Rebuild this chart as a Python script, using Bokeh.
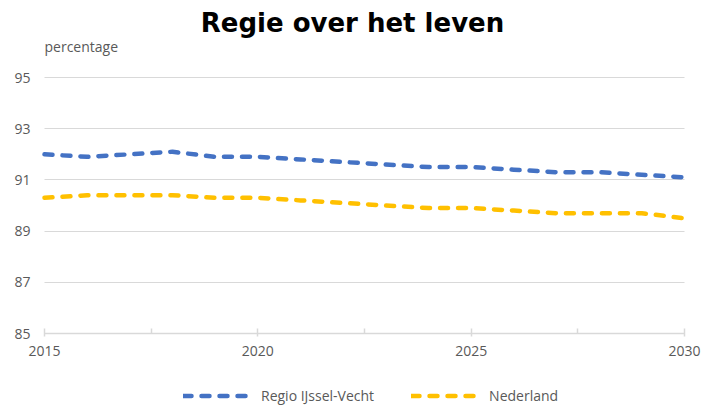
from bokeh.plotting import figure
from bokeh.models import FixedTicker, Legend, LegendItem, Range1d, Label
from bokeh.embed import file_html
from bokeh.resources import INLINE

# ---- data ----
years = list(range(2015, 2031))
regio = [92.0, 91.9, 92.0, 92.1, 91.9, 91.9, 91.8, 91.7, 91.6, 91.5,
         91.5, 91.4, 91.3, 91.3, 91.2, 91.1]
nederland = [90.3, 90.4, 90.4, 90.4, 90.3, 90.3, 90.2, 90.1, 90.0, 89.9,
             89.9, 89.8, 89.7, 89.7, 89.7, 89.5]
y_ticks = [85, 87, 89, 91, 93, 95]
x_ticks = [2015, 2020, 2025, 2030]
x_minor = [2017.5, 2022.5, 2027.5]
series_names = ["Regio IJssel-Vecht", "Nederland"]
title_text = "Regie over het leven"
y_label = "percentage"

GRID = "#d9d9d9"
TXT = "#595959"
FONT = "Open Sans"

# ---- layout (pixels) ----
W, H = 705, 405
PX_LEFT, PX_RIGHT = 44, 684      # where 2015 / 2030 fall
PX_TOP, PX_BOTTOM = 77, 333      # where 95 / 85 fall
x0, x1 = x_ticks[0], x_ticks[-1]
y0, y1 = y_ticks[0], y_ticks[-1]
sx = (PX_RIGHT - PX_LEFT) / (x1 - x0)
sy = (PX_BOTTOM - PX_TOP) / (y1 - y0)
x_range = Range1d(x0 - PX_LEFT / sx, x1 + (W - PX_RIGHT) / sx)
y_range = Range1d(y0 - (H - PX_BOTTOM) / sy, y1 + PX_TOP / sy)

p = figure(width=W, height=H, output_backend="svg", toolbar_location=None,
           title=None, x_range=x_range, y_range=y_range,
           min_border=0)
p.outline_line_color = None
p.background_fill_color = "white"
p.border_fill_color = "white"

# grid
p.xgrid.grid_line_color = None
p.ygrid.ticker = FixedTicker(ticks=y_ticks)
p.ygrid.cross_bounds = (x0, x1)
p.ygrid.grid_line_color = GRID
p.ygrid.grid_line_width = 1

# y axis pinned at 2015
p.yaxis.fixed_location = x0
p.yaxis.ticker = FixedTicker(ticks=y_ticks)
p.yaxis.axis_line_color = None
p.yaxis.major_tick_line_color = None
p.yaxis.minor_tick_line_color = None
p.yaxis.major_tick_out = 0
p.yaxis.major_tick_in = 0
p.yaxis.major_label_standoff = 14
p.yaxis.major_label_text_font = FONT
p.yaxis.major_label_text_font_size = "14px"
p.yaxis.major_label_text_color = TXT

# x axis pinned at 85
p.xaxis.fixed_location = y0
p.xaxis.bounds = (x0, x1)
p.xaxis.ticker = FixedTicker(ticks=x_ticks, minor_ticks=x_minor)
p.xaxis.axis_line_color = GRID
p.xaxis.axis_line_width = 1.5
p.xaxis.major_tick_line_color = GRID
p.xaxis.major_tick_line_width = 1.5
p.xaxis.major_tick_in = 5
p.xaxis.major_tick_out = 3
p.xaxis.minor_tick_line_color = GRID
p.xaxis.minor_tick_line_width = 1.5
p.xaxis.minor_tick_in = 5
p.xaxis.minor_tick_out = 0
p.xaxis.major_label_standoff = 9
p.xaxis.major_label_text_font = FONT
p.xaxis.major_label_text_font_size = "14px"
p.xaxis.major_label_text_color = TXT

# lines
r1 = p.line(years, regio, line_color="#4472C4", line_width=4.5,
            line_dash="8 10", line_cap="round")
r2 = p.line(years, nederland, line_color="#FFC000", line_width=4.5,
            line_dash="8 10", line_cap="round")

legend = Legend(items=[LegendItem(label=series_names[0], renderers=[r1]),
                       LegendItem(label=series_names[1], renderers=[r2])],
                orientation="horizontal", location=(183, 0),
                margin=0, padding=0, spacing=37, label_standoff=8,
                glyph_width=70, glyph_height=19,
                border_line_color=None, background_fill_alpha=0,
                label_text_font=FONT, label_text_font_size="14px",
                label_text_color=TXT)
p.add_layout(legend)

# title and unit label, positioned in data space above the 95 line
p.add_layout(Label(x=x0 + (352 - PX_LEFT) / sx, y=y1 + (PX_TOP - 22) / sy,
                   text=title_text, text_align="center",
                   text_baseline="alphabetic",
                   text_font="DejaVu Sans", text_font_size="26px",
                   text_font_style="bold", text_color="black"))
p.add_layout(Label(x=x0, y=y1 + (PX_TOP - 46) / sy, text=y_label,
                   text_align="left", text_baseline="alphabetic",
                   text_font=FONT, text_font_size="14px", text_color=TXT))

open("out.html", "w").write(file_html(p, INLINE))
